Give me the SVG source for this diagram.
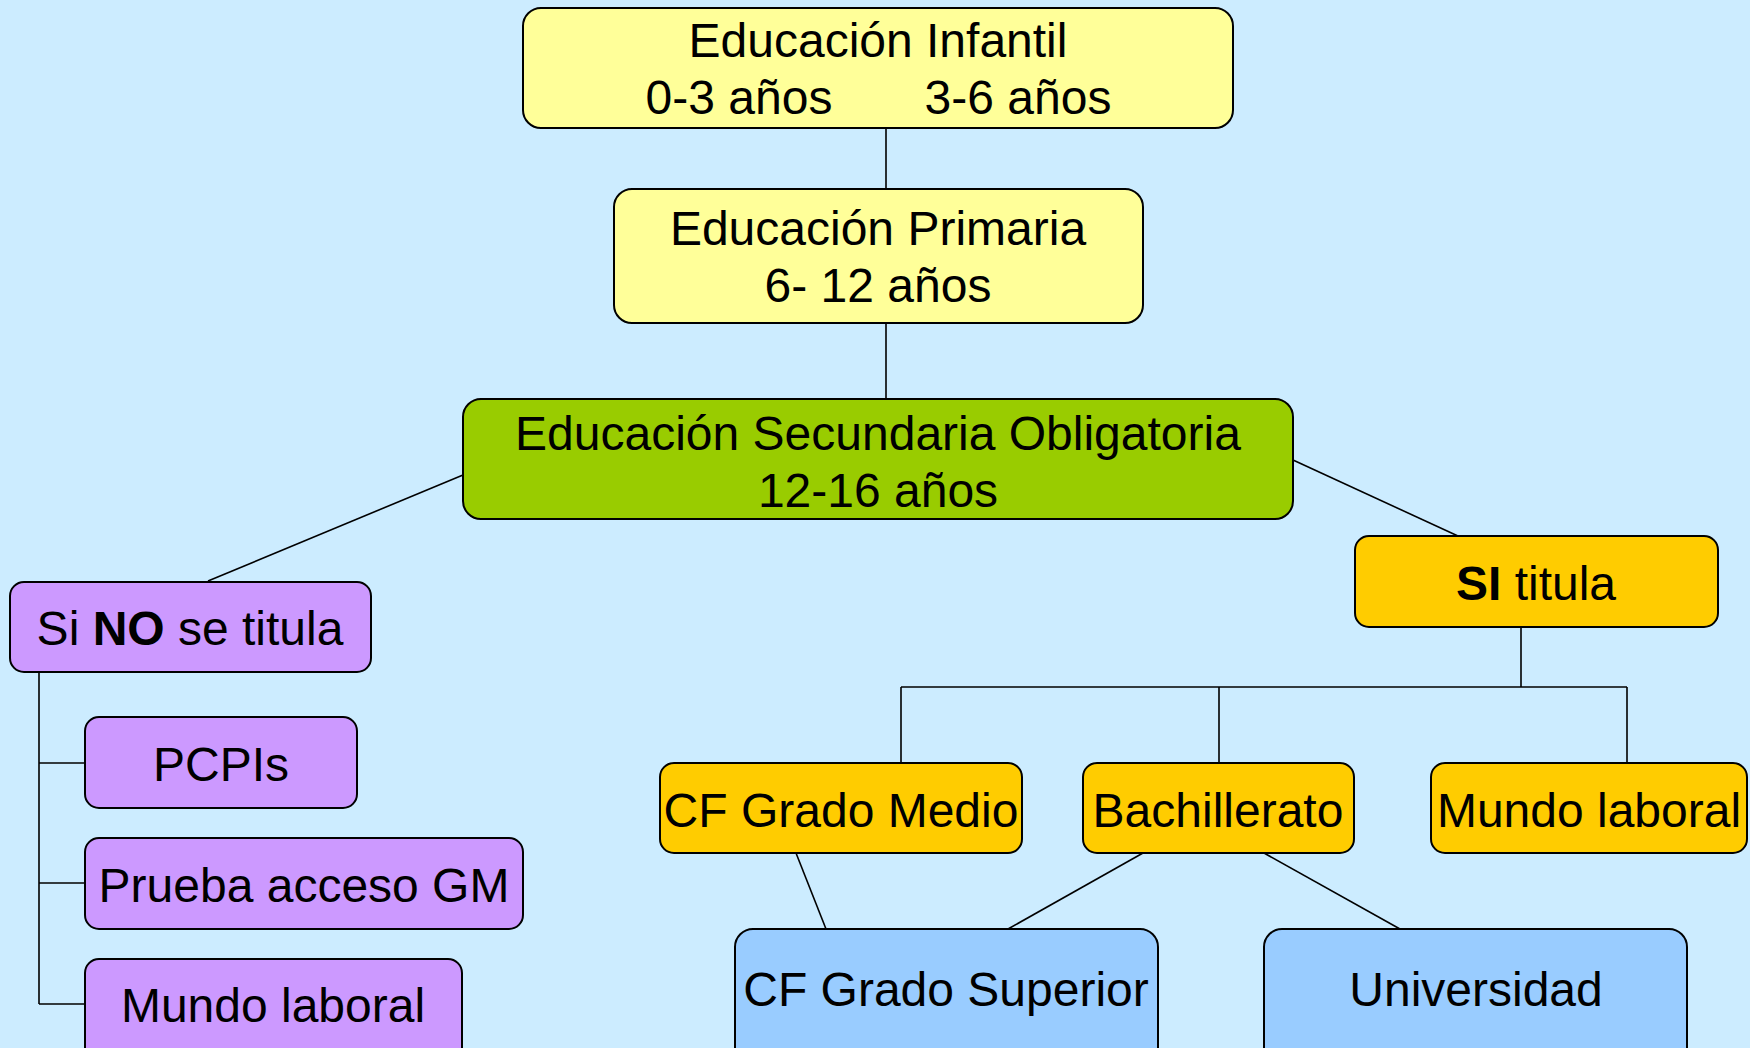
<svg xmlns="http://www.w3.org/2000/svg" width="1750" height="1048" viewBox="0 0 1750 1048">
<style>
.box{stroke:#000;stroke-width:2}
.y{fill:#FFFF99}.g{fill:#99CC00}.p{fill:#CC99FF}.o{fill:#FFCC00}.b{fill:#99CCFF}
text{font-family:"Liberation Sans",Arial,sans-serif;font-size:48px;fill:#000;text-anchor:middle}
.bold{font-weight:bold}
.conn{stroke:#000;stroke-width:1.6;fill:none}
</style>
<rect width="1750" height="1048" fill="#CCECFF"/>
<g id="connectors" class="conn">
<path d="M886 128V189M886 323V399"/>
<path d="M463 475L208 581"/>
<path d="M1293 460L1458 536"/>
<path d="M39 672V1004M39 763H85M39 883H85M39 1004H85"/>
<path d="M1521 627V687M901 687H1627M901 687V763M1219 687V763M1627 687V763"/>
<path d="M796 853L826 929"/>
<path d="M1143 853L1008 929"/>
<path d="M1264 853L1400 929"/>
</g>
<g id="infantil"><rect class="box y" x="523" y="8" width="710" height="120" rx="18"/>
<text x="878" y="57">Educación Infantil</text>
<text y="114"><tspan x="739">0-3 años</tspan><tspan x="1018">3-6 años</tspan></text></g>
<g id="primaria"><rect class="box y" x="614" y="189" width="529" height="134" rx="18"/>
<text x="878" y="245">Educación Primaria</text>
<text x="878" y="302">6- 12 años</text></g>
<g id="eso"><rect class="box g" x="463" y="399" width="830" height="120" rx="18"/>
<text x="878" y="450">Educación Secundaria Obligatoria</text>
<text x="878" y="507">12-16 años</text></g>
<g id="no-titula"><rect class="box p" x="10" y="582" width="361" height="90" rx="14"/>
<text x="190" y="645">Si <tspan class="bold">NO</tspan> se titula</text></g>
<g id="pcpis"><rect class="box p" x="85" y="717" width="272" height="91" rx="14"/>
<text x="221" y="781">PCPIs</text></g>
<g id="prueba"><rect class="box p" x="85" y="838" width="438" height="91" rx="14"/>
<text x="304" y="902">Prueba acceso GM</text></g>
<g id="mundo-laboral-no"><rect class="box p" x="85" y="959" width="377" height="110" rx="14"/>
<text x="273" y="1022">Mundo laboral</text></g>
<g id="si-titula"><rect class="box o" x="1355" y="536" width="363" height="91" rx="14"/>
<text x="1536" y="600"><tspan class="bold">SI</tspan> titula</text></g>
<g id="cf-medio"><rect class="box o" x="660" y="763" width="362" height="90" rx="14"/>
<text x="841" y="827">CF Grado Medio</text></g>
<g id="bachillerato"><rect class="box o" x="1083" y="763" width="271" height="90" rx="14"/>
<text x="1218" y="827">Bachillerato</text></g>
<g id="mundo-laboral-si"><rect class="box o" x="1431" y="763" width="316" height="90" rx="14"/>
<text x="1589" y="827">Mundo laboral</text></g>
<g id="cf-superior"><rect class="box b" x="735" y="929" width="423" height="140" rx="18"/>
<text x="946" y="1006">CF Grado Superior</text></g>
<g id="universidad"><rect class="box b" x="1264" y="929" width="423" height="140" rx="18"/>
<text x="1476" y="1006">Universidad</text></g>
</svg>
